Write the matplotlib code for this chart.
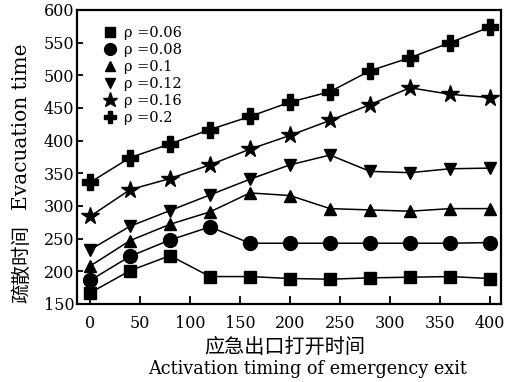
import matplotlib
matplotlib.use("Agg")
import matplotlib.pyplot as plt

plt.rcParams['font.family'] = ['DejaVu Serif', 'Noto Sans CJK SC']

# activation time of the emergency exit
x = [0, 40, 80, 120, 160, 200, 240, 280, 320, 360, 400]

# evacuation time for each density
rho_006 = [167, 201, 224, 192, 192, 189, 188, 190, 191, 192, 189]
rho_008 = [186, 223, 248, 268, 243, 243, 243, 243, 243, 243, 244]
rho_010 = [208, 247, 272, 291, 320, 316, 296, 294, 292, 296, 296]
rho_012 = [233, 269, 293, 317, 341, 363, 378, 353, 351, 357, 358]
rho_016 = [284, 325, 342, 363, 387, 408, 431, 455, 481, 471, 466]
rho_020 = [336, 374, 395, 417, 437, 459, 475, 507, 527, 550, 574]

labels = ['ρ =0.06', 'ρ =0.08', 'ρ =0.1', 'ρ =0.12', 'ρ =0.16', 'ρ =0.2']
xticks = [0, 50, 100, 150, 200, 250, 300, 350, 400]
yticks = [150, 200, 250, 300, 350, 400, 450, 500, 550, 600]

series = [rho_006, rho_008, rho_010, rho_012, rho_016, rho_020]
markers = ['s', 'o', '^', 'v', '*', 'P']
sizes = [9, 10, 9, 9, 13, 11]

fig = plt.figure(figsize=(5.22, 3.82), dpi=100)
ax = fig.add_axes([77 / 522, 1 - 304 / 382, 424 / 522, 294 / 382])

handles = []
for ys, m, s, lab in zip(series, markers, sizes, labels):
    ax.plot(x, ys, color='black', lw=1.1)
    h, = ax.plot(x, ys, ls='none', marker=m, ms=s, color='black', label=lab)
    handles.append(h)

ax.set_xlim(-13, 411)
ax.set_ylim(150, 600)
ax.set_xticks(xticks)
ax.set_yticks(yticks)
ax.tick_params(axis='x', direction='in', length=6, width=1.3, labelsize=11.5, pad=8)
ax.tick_params(axis='y', direction='in', length=4, width=1.3, labelsize=11.5, pad=2)
for sp in ax.spines.values():
    sp.set_linewidth(1.6)

ax.legend(handles=handles, loc='upper left', frameon=False, fontsize=10.5,
          handlelength=0.8, handletextpad=0.55, labelspacing=0.21,
          borderaxespad=0.0, bbox_to_anchor=(0.05, 0.966), markerscale=0.85)

# y axis title: English part and Chinese part
fig.text(22 / 522, 1 - 127 / 382, 'Evacuation time', fontsize=14.5,
         rotation=90, ha='center', va='center')
fig.text(22 / 522, 1 - 264 / 382, '疏散时间', fontsize=14,
         rotation=90, ha='center', va='center')

# x axis title
fig.text(285 / 522, 1 - 347 / 382, '应急出口打开时间', fontsize=14.5,
         ha='center', va='center')
fig.text(308 / 522, 1 - 369 / 382, 'Activation timing of emergency exit',
         fontsize=12.7, ha='center', va='center')

fig.savefig('out.png', dpi=100)
